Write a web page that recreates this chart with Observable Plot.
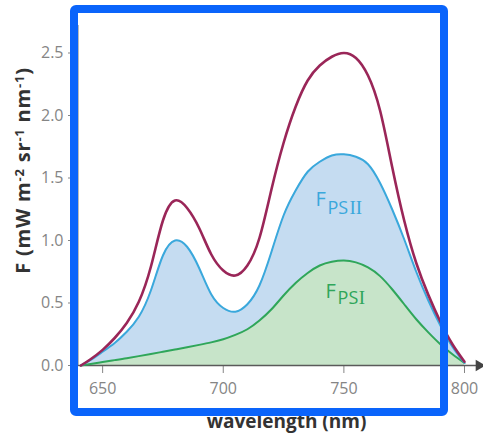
<!DOCTYPE html>
<html><head><meta charset="utf-8">
<script src="https://cdn.jsdelivr.net/npm/d3@7"></script>
<script src="https://cdn.jsdelivr.net/npm/@observablehq/plot@0.6"></script>
<style>
body{margin:0;background:#fff;}
#wrap{position:relative;width:483px;height:436px;overflow:hidden;}
#box{position:absolute;left:70px;top:5px;width:378px;height:411px;box-sizing:border-box;border:8px solid #0a64fb;border-radius:6px;pointer-events:none;}
</style></head><body>
<div id="wrap"><div id="chart"></div><div id="box"></div></div>
<script>
const wavelength = [641,645,650,655,660,665,670,675,680,685,690,695,700,705,710,715,720,725,730,735,740,745,750,755,760,765,770,775,780,785,790,795,800];
const fTotal = [0,0.05,0.125,0.22,0.34,0.51,0.79,1.16,1.32,1.26,1.10,0.89,0.76,0.72,0.80,1.02,1.41,1.78,2.07,2.28,2.40,2.47,2.50,2.46,2.32,2.04,1.59,1.16,0.82,0.565,0.35,0.17,0.03];
const fPSII = [0,0.045,0.11,0.18,0.27,0.39,0.60,0.88,1.00,0.95,0.78,0.57,0.46,0.43,0.49,0.64,0.91,1.20,1.40,1.55,1.63,1.68,1.69,1.67,1.61,1.46,1.25,1.01,0.75,0.52,0.32,0.15,0.02];
const fPSI = [0,0.012,0.028,0.043,0.058,0.075,0.092,0.11,0.128,0.146,0.165,0.185,0.21,0.245,0.29,0.36,0.45,0.56,0.66,0.74,0.80,0.83,0.84,0.825,0.785,0.715,0.61,0.49,0.37,0.265,0.17,0.09,0.02];
const yTicks = [0,0.5,1,1.5,2,2.5];
const xTicks = [650,700,750,800];
const xDomain = [640,800];
const yDomain = [0,2.72];
const xAxisExtent = [640,806];
const labelNames = ["F","PS","II","F","PS","I"];
const labelX = [738.2,743.2,752.3,742.4,747.4,756.2];
const labelY = [1.331,1.262,1.262,0.595,0.542,0.542];

const data = wavelength.map((w,i)=>({w, total:fTotal[i], psii:fPSII[i], psi:fPSI[i]}));
const axisLine = xAxisExtent.map(x=>({x, y:0}));
const lab = labelNames.map((t,i)=>({t, x:labelX[i], y:labelY[i]}));
const blue = "#3aa8dc", green = "#2fa65a";
const sans = "'Open Sans', sans-serif", serif = "'Liberation Serif', 'DejaVu Serif', serif";
const curve = "natural";

const chart = Plot.plot({
  width:483, height:436,
  marginLeft:78, marginRight:19, marginTop:25, marginBottom:71,
  style:{fontFamily:sans, background:"transparent"},
  x:{domain:xDomain},
  y:{domain:yDomain},
  marks:[
    Plot.areaY(data,{x:"w", y:"psii", fill:"#c5dcf1", curve}),
    Plot.areaY(data,{x:"w", y:"psi", fill:"#c7e4c9", curve}),
    Plot.ruleX([xDomain[0]],{stroke:"#bbb", strokeWidth:1}),
    Plot.axisY({ticks:yTicks, tickFormat:d3.format(".1f"), tickSize:10, tickPadding:5, fontSize:16, color:"#858585", label:null}),
    Plot.axisX({ticks:xTicks, tickSize:8, tickPadding:9, fontSize:16, color:"#858585", label:null}),
    Plot.line(axisLine,{x:"x", y:"y", stroke:"#5a5a5a", strokeWidth:1.3}),
    Plot.dot(axisLine.slice(1),{x:"x", y:"y", symbol:"triangle", r:4.2, fill:"#444", stroke:null, rotate:90}),
    Plot.lineY(data,{x:"w", y:"psi", stroke:green, strokeWidth:2, curve}),
    Plot.lineY(data,{x:"w", y:"psii", stroke:blue, strokeWidth:2, curve}),
    Plot.lineY(data,{x:"w", y:"total", stroke:"#9a2658", strokeWidth:2.6, curve}),
    Plot.text([lab[0]],{x:"x", y:"y", text:"t", textAnchor:"start", fill:blue, fontSize:20}),
    Plot.text([lab[1]],{x:"x", y:"y", text:"t", textAnchor:"start", fill:blue, fontSize:18}),
    Plot.text([lab[2]],{x:"x", y:"y", text:"t", textAnchor:"start", fill:blue, fontSize:19, fontFamily:serif}),
    Plot.text([lab[3]],{x:"x", y:"y", text:"t", textAnchor:"start", fill:green, fontSize:20}),
    Plot.text([lab[4]],{x:"x", y:"y", text:"t", textAnchor:"start", fill:green, fontSize:18}),
    Plot.text([lab[5]],{x:"x", y:"y", text:"t", textAnchor:"start", fill:green, fontSize:19, fontFamily:serif}),
    Plot.text(["wavelength (nm)"],{frameAnchor:"bottom", dx:15, dy:62, fontWeight:"bold", fontSize:19, fill:"#333"}),
    Plot.text(["F (mW m-2 sr-1 nm-1)"],{frameAnchor:"left", textAnchor:"middle", rotate:-90, dx:-55, dy:-25, fontWeight:"bold", fontSize:20, fill:"#333"})
  ]
});
// render the exponents of the y-axis title as raised, smaller text
d3.select(chart).selectAll("text").filter(function(){ return this.textContent === "F (mW m-2 sr-1 nm-1)"; })
  .attr("letter-spacing","0.8px")
  .each(function(){
    const t = d3.select(this);
    t.text(null);
    const parts = [["F (mW m",0],["-2",1],[" sr",0],["-1",1],[" nm",0],["-1",1],[")",0]];
    for (const [s, sup] of parts) {
      const sp = t.append("tspan").text(s);
      if (sup) sp.attr("font-size","13px").attr("baseline-shift","45%");
    }
  });
document.getElementById("chart").append(chart);
</script>
</body></html>
